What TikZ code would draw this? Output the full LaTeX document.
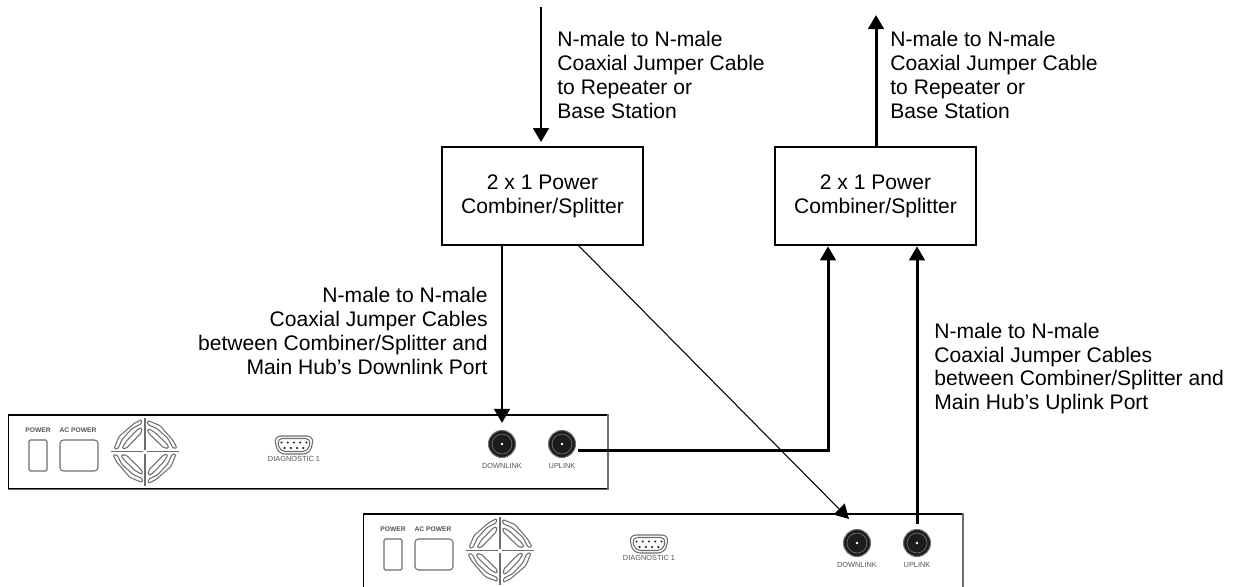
\documentclass[tikz,border=0pt]{standalone}
\usepackage{fontspec}
\setmainfont{Liberation Sans}
\usetikzlibrary{
  arrows.meta,
  positioning
}
\definecolor{hubgray}{HTML}{6E6E6E}
\definecolor{hubtext}{HTML}{555555}
\definecolor{portdark}{HTML}{1C1C1C}

\begin{document}
\begin{tikzpicture}[
  x=0.02cm, y=-0.02cm,
  splitter/.style={
    rectangle, draw=black, line width=1.5pt, fill=white,
    minimum width=4.02cm, minimum height=1.96cm, align=center,
    font=\fontsize{12}{13.6}\selectfont
  },
  note/.style={
    inner sep=0pt, font=\fontsize{12}{13.6}\selectfont
  },
  panel/.style={
    rectangle, draw=black, line width=0.85pt, fill=white, anchor=north west,
    minimum width=11.98cm, minimum height=1.48cm
  },
  port/.style={
    circle, draw=hubgray, fill=portdark, line width=0.6pt,
    minimum size=0.54cm, inner sep=0pt
  },
  hubline/.style={hubgray, line width=0.6pt, rounded corners=0.8pt},
  hublabel/.style={font=\fontsize{4.2}{5}\selectfont, text=hubtext, inner sep=0pt},
  cable/.style={line width=1.7pt, -{Triangle[length=8pt, width=8.8pt]}},
  thincable/.style={line width=0.6pt, -{Triangle[length=8pt, width=8.8pt]}}
]
\useasboundingbox (0,0) rectangle (1234,586);

% Main hub front panels
\foreach \hub/\ox/\oy in {hubA/8/414, hubB/363/513} {
  \begin{scope}[shift={(\ox,\oy)}]
    \node[panel] (\hub) at (0,0) {};
    \draw[hubgray, line width=1.1pt] (\hub.north east) -- (\hub.south east) -- (\hub.south west);

    \node[hublabel, font=\fontsize{3.8}{5}\bfseries\selectfont] (\hub-pwrlabel) at (30,16) {POWER};
    \node[hublabel, font=\fontsize{3.8}{5}\bfseries\selectfont] (\hub-aclabel) at (70,16) {AC POWER};
    \draw[hubline] (21,26) rectangle (39,57);
    \draw[hubline, rounded corners=2pt] (52,26) rectangle (90,57);

    % Fan grille
    \begin{scope}[shift={(137,37.5)}]
      \foreach \ang in {0,90,180,270} {
        \begin{scope}[rotate=\ang]
          \draw[hubline, rounded corners=0pt] (2,0) -- (34,0);
          \draw[hubline] (2.7,-31) -- (15,-26) -- (28,-11) -- (32,-3.3) -- (28,-3.3)
            -- (23,-13) -- (12,-23) -- (2.7,-27) -- cycle;
          \draw[hubline] (3,-23) -- (10,-19) -- (22,-7.5) -- (24,-3.5) -- (19,-3.5)
            -- (7,-15) -- (3,-19) -- cycle;
        \end{scope}
      }
    \end{scope}

    % Diagnostic connector
    \draw[hubline, rounded corners=4pt] (266,22) -- (306,22) -- (302,40) -- (270,40) -- cycle;
    \draw[hubline, rounded corners=3pt] (269,24.5) -- (303,24.5) -- (300,37.5) -- (272,37.5) -- cycle;
    \foreach \dx in {-12.5,-6.25,0,6.25,12.5}
      \fill[black!85] (286+\dx,28.5) circle[radius=1.2];
    \foreach \dx in {-9.4,-3.1,3.1,9.4}
      \fill[black!85] (286+\dx,34) circle[radius=1.2];
    \node[hublabel] (\hub-diag) at (286,45) {DIAGNOSTIC 1};

    % RF ports
    \node[port] (\hub-down) at (494,30) {};
    \node[port] (\hub-up) at (554,30) {};
    \foreach \prt in {down,up} {
      \draw[hubgray, line width=0.4pt] (\hub-\prt) circle[radius=10];
      \fill[white] (\hub-\prt) circle[radius=1.4];
    }
    \node[hublabel] (\hub-downlabel) at (494,52) {DOWNLINK};
    \node[hublabel] (\hub-uplabel) at (554,52) {UPLINK};
  \end{scope}
}

% Combiner/splitters
\node[splitter] (boxA) at (542.5,196) {2 x 1 Power\\Combiner/Splitter};
\node[splitter] (boxB) at (875.5,196) {2 x 1 Power\\Combiner/Splitter};

% Free ends of the cables
\coordinate (feedIn) at (541,7);
\coordinate (feedOut) at (876,15);
\coordinate (crossStart) at (578,245);
\coordinate (crossEnd) at (849,519);
\coordinate (bendUp) at (828,450);

\draw[cable, shorten >=2pt] (feedIn) -- (feedIn |- boxA.north);
\draw[cable] (feedOut |- boxB.north) -- (feedOut);
\draw[cable, shorten >=4pt] (hubA-down |- boxA.south) -- (hubA-down.north);
\draw[thincable] (crossStart) -- (crossEnd);
\draw[cable, shorten <=1pt] (hubA-up.east |- bendUp) -- (bendUp) -- (bendUp |- boxB.south);
\draw[cable, shorten <=3pt] (hubB-up.north) -- (hubB-up |- boxB.south);

% Cable notes
\node[note, anchor=west, align=left] (noteIn) at (557,75)
  {N-male to N-male\\Coaxial Jumper Cable\\to Repeater or\\Base Station};
\node[note, anchor=west, align=left] (noteOut) at (890,75)
  {N-male to N-male\\Coaxial Jumper Cable\\to Repeater or\\Base Station};
\node[note, anchor=east, align=right] (noteDown) at (488,331)
  {N-male to N-male\\Coaxial Jumper Cables\\between Combiner/Splitter and\\Main Hub’s Downlink Port};
\node[note, anchor=west, align=left] (noteUp) at (934,368.5)
  {N-male to N-male\\Coaxial Jumper Cables\\between Combiner/Splitter and\\Main Hub’s Uplink Port};
\end{tikzpicture}
\end{document}
